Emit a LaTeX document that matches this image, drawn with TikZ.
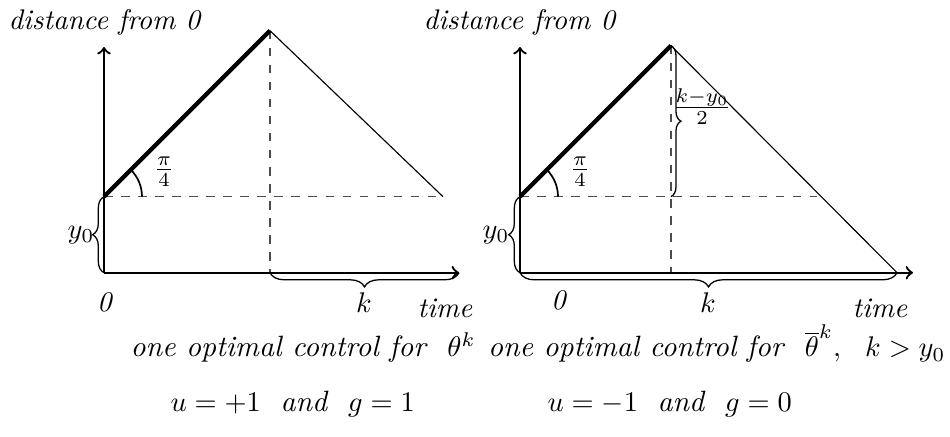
\documentclass[tikz,border=0pt]{standalone}
\usetikzlibrary{decorations.pathreplacing}
\begin{document}
\begin{tikzpicture}[x=0.3521pt,y=0.3521pt,
  axis/.style={line width=0.8pt,->},
  risepath/.style={line width=1.5pt},
  fallpath/.style={line width=0.4pt},
  guide/.style={dashed,black!70,line width=0.5pt},
  bracefor/.style={decorate,decoration={brace,amplitude=#1},line width=0.45pt},
  lbl/.style={inner sep=0pt},
  txt/.style={inner sep=0pt,anchor=base west,font=\fontsize{10.35pt}{12.4pt}\selectfont}]
\useasboundingbox (0,0) rectangle (950,437);
% ---------- left panel ----------
\coordinate (O1) at (104,164.3);
\coordinate (Y1) at (104,390);
\coordinate (X1) at (459,164.3);
\coordinate (A1) at (104,240.3);
\coordinate (P1) at (270,406.3);
\coordinate (E1) at (443,240.3);
\coordinate (F1) at (270,164.3);
\coordinate (R1) at (142,240.3);
\draw[guide] (A1) -- (E1);
\draw[guide] (P1) -- (F1);
\draw[axis] (O1) -- (Y1);
\draw[axis] (O1) -- (X1);
\draw[risepath] (A1) -- (P1);
\draw[fallpath] (P1) -- (E1);
\draw[line width=0.6pt] (R1) arc[start angle=0,end angle=45,radius=38];
\draw[bracefor=4pt] (O1) -- (A1);
\draw[bracefor=5pt] (X1) -- (F1);
\node[lbl] (y0a) at (81,202) {$y_0$};
\node[lbl] (pia) at (164,265) {$\frac{\pi}{4}$};
\node[lbl] (ka) at (364,134) {$k$};
\node[lbl] (zeroa) at (105,135) {\textit{0}};
\node[lbl] (timea) at (445,129) {\textit{time}};
\node[inner sep=0pt,anchor=base] (dista) at (105,407) {\textit{distance from 0}};
% ---------- right panel ----------
\coordinate (O2) at (520,164.3);
\coordinate (Y2) at (520,390);
\coordinate (X2) at (913,164.3);
\coordinate (A2) at (520,240.3);
\coordinate (P2) at (671,391.3);
\coordinate (E2) at (897,164.3);
\coordinate (F2) at (671,164.3);
\coordinate (H2) at (671,240.3);
\coordinate (D2) at (817,240.3);
\coordinate (R2) at (558,240.3);
\draw[guide] (A2) -- (D2);
\draw[guide] (P2) -- (F2);
\draw[axis] (O2) -- (Y2);
\draw[axis] (O2) -- (X2);
\draw[risepath] (A2) -- (P2);
\draw[fallpath] (P2) -- (E2);
\draw[line width=0.6pt] (R2) arc[start angle=0,end angle=45,radius=38];
\draw[bracefor=4pt] (O2) -- (A2);
\draw[bracefor=5pt] (E2) -- (O2);
\draw[bracefor=3.5pt] (P2) -- (H2);
\node[lbl] (y0b) at (496,202) {$y_0$};
\node[lbl] (pib) at (580,265) {$\frac{\pi}{4}$};
\node[lbl] (frb) at (702,330.5) {$\frac{k-y_0}{2}$};
\node[lbl] (kb) at (708,134) {$k$};
\node[lbl] (zerob) at (559,137) {\textit{0}};
\node[lbl] (timeb) at (880,129) {\textit{time}};
\node[inner sep=0pt,anchor=base] (distb) at (520,407) {\textit{distance from 0}};
% ---------- captions ----------
\node[txt] (cap1) at (130,80) {\textit{one optimal control for}\ \ $\theta^k$};
\node[txt,anchor=base east] (cap2) at (946,80) {\textit{one optimal control for}\ \ $\overline{\theta}^k,\ \ k>y_0$};
\node[txt] (cap3) at (170,25) {$u=+1$\ \ \textit{and}\ \ $g=1$};
\node[txt] (cap4) at (547,25) {$u=-1$\ \ \textit{and}\ \ $g=0$};
\end{tikzpicture}
\end{document}
